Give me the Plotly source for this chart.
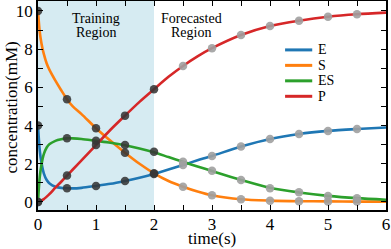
import plotly.graph_objects as go

# model curves
t_curve = [0, 0.03, 0.06, 0.1, 0.15, 0.2, 0.3, 0.4, 0.5, 0.6, 0.75, 1.0, 1.25, 1.5, 1.75,
           2.0, 2.25, 2.5, 2.75, 3.0, 3.5, 4.0, 4.5, 5.0, 5.5, 6.0]
E_curve = [4.0, 2.7, 2.05, 1.5, 1.15, 0.97, 0.8, 0.74, 0.72, 0.71, 0.74, 0.84, 0.95, 1.1, 1.27,
           1.47, 1.7, 1.94, 2.18, 2.41, 2.9, 3.3, 3.56, 3.72, 3.82, 3.9]
S_curve = [10.0, 8.9, 8.3, 7.75, 7.25, 6.9, 6.35, 5.85, 5.38, 5.0, 4.6, 3.86, 3.2, 2.58, 2.0,
           1.5, 1.1, 0.8, 0.55, 0.35, 0.14, 0.07, 0.04, 0.03, 0.02, 0.02]
ES_curve = [0.0, 1.3, 1.95, 2.5, 2.85, 3.03, 3.2, 3.28, 3.33, 3.33, 3.3, 3.2, 3.1, 2.97, 2.8,
            2.6, 2.35, 2.1, 1.86, 1.62, 1.15, 0.74, 0.5, 0.32, 0.2, 0.12]
P_curve = [0.0, 0.04, 0.08, 0.15, 0.28, 0.42, 0.75, 1.06, 1.38, 1.7, 2.18, 2.98, 3.78, 4.52, 5.24,
           5.9, 6.55, 7.12, 7.62, 8.05, 8.74, 9.21, 9.49, 9.7, 9.83, 9.91]

# sampled data: training (t <= 2) and forecast (t > 2)
t_train = [0, 0.5, 1.0, 1.5, 2.0]
E_train = [4.0, 0.72, 0.84, 1.1, 1.47]
S_train = [10.0, 5.38, 3.86, 2.58, 1.5]
ES_train = [0.0, 3.33, 3.21, 2.98, 2.63]
P_train = [0.0, 1.38, 2.98, 4.52, 5.9]

t_fore = [2.5, 3.0, 3.5, 4.0, 4.5, 5.0, 5.5]
E_fore = [1.94, 2.41, 2.9, 3.3, 3.56, 3.72, 3.82]
S_fore = [0.8, 0.35, 0.14, 0.07, 0.04, 0.03, 0.02]
ES_fore = [2.11, 1.64, 1.15, 0.72, 0.51, 0.31, 0.19]
P_fore = [7.12, 8.05, 8.74, 9.21, 9.49, 9.7, 9.83]

species = ['E', 'S', 'ES', 'P']
colors = ['#1f77b4', '#ff7f0e', '#2ca02c', '#d62728']

train_end = 2
serif = "Liberation Serif"

fig = go.Figure()

for name, vals, col in zip(species, [E_curve, S_curve, ES_curve, P_curve], colors):
    fig.add_trace(go.Scatter(x=t_curve, y=vals, name=name, mode='lines', showlegend=False,
                             line=dict(color=col, width=2.6, shape='spline', smoothing=0.8)))

for ys in [E_train, S_train, ES_train, P_train]:
    fig.add_trace(go.Scatter(x=t_train, y=ys, mode='markers', showlegend=False,
                             marker=dict(color='rgba(55,55,55,0.88)', size=8.5)))
for ys in [E_fore, S_fore, ES_fore, P_fore]:
    fig.add_trace(go.Scatter(x=t_fore, y=ys, mode='markers', showlegend=False,
                             marker=dict(color='rgba(160,160,160,0.9)', size=8.5)))

fig.add_shape(type='rect', xref='x', yref='paper', x0=0, x1=train_end, y0=0, y1=1,
              fillcolor='#d6ebf2', line_width=0, layer='below')

for txt, xx, yy in [('Training', 1, 9.58), ('Region', 1, 8.85),
                    ('Forecasted', 2.64, 9.58), ('Region', 2.64, 8.85)]:
    fig.add_annotation(x=xx, y=yy, text=txt, showarrow=False,
                       font=dict(family=serif, size=14, color='black'))

# hand-made legend, tighter rows than plotly's own
for i, (name, col) in enumerate(zip(species, colors)):
    yy = 0.766 - i * 0.074
    fig.add_shape(type='line', xref='paper', yref='paper', x0=0.71, x1=0.788, y0=yy, y1=yy,
                  line=dict(color=col, width=3))
    fig.add_annotation(xref='paper', yref='paper', x=0.8, y=yy, text=name, showarrow=False,
                       xanchor='left', yanchor='middle',
                       font=dict(family=serif, size=14, color='black'))

axis_common = dict(showline=True, linecolor='black', linewidth=1.5, mirror='allticks',
                   ticks='inside', ticklen=5, tickwidth=1, tickcolor='black',
                   showgrid=False, zeroline=False, automargin=False,
                   tickfont=dict(family=serif, size=17, color='black'))

fig.update_xaxes(range=[0, 6], dtick=1, tick0=0, ticklabelstandoff=-2,
                 minor=dict(dtick=0.5, ticks='inside', ticklen=5, tickcolor='black', showgrid=False),
                 **axis_common)
fig.update_yaxes(range=[-0.42, 10.52], dtick=2, tick0=0,
                 minor=dict(dtick=1, ticks='inside', ticklen=5, tickcolor='black', showgrid=False),
                 **axis_common)

# axis titles as annotations so they sit where the reference puts them
fig.add_annotation(xref='paper', yref='paper', x=0.5, y=-0.137, xanchor='center', yanchor='middle',
                   text='time(s)', showarrow=False, font=dict(family=serif, size=17, color='black'))
fig.add_annotation(xref='paper', yref='paper', x=-0.075, y=0.49, xanchor='center', yanchor='middle',
                   textangle=-90, text='concentration(mM)', showarrow=False,
                   font=dict(family=serif, size=17, color='black'))

fig.update_layout(width=391, height=249, margin=dict(l=38, r=5, t=1, b=39),
                  plot_bgcolor='white', paper_bgcolor='white', showlegend=False)

# page body has an 8px default margin; drop it so the figure fills the window
fig.write_html("out.html", config={'displayModeBar': False},
               post_script="document.body.style.margin='0';")
